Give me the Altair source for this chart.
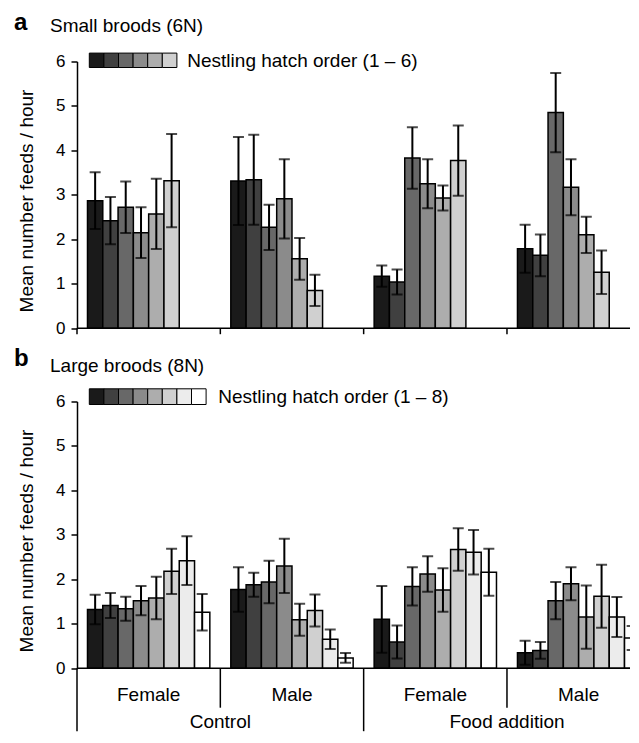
import altair as alt
import pandas as pd

FONT = "Liberation Sans"

groups = ["Control|Female", "Control|Male", "Food addition|Female", "Food addition|Male"]
hatch_orders = [1, 2, 3, 4, 5, 6, 7, 8]
grays = ["#1a1a1a", "#404040", "#686868", "#8b8b8b", "#adadad", "#d0d0d0", "#ececec", "#ffffff"]

# Panel a: small broods (6N) – means and SE
small_ctrl_f_mean = [2.87, 2.42, 2.72, 2.15, 2.57, 3.32]
small_ctrl_f_se = [0.64, 0.53, 0.58, 0.57, 0.79, 1.05]
small_ctrl_m_mean = [3.31, 3.34, 2.27, 2.91, 1.56, 0.85]
small_ctrl_m_se = [0.99, 1.01, 0.51, 0.89, 0.47, 0.35]
small_food_f_mean = [1.17, 1.04, 3.83, 3.25, 2.93, 3.77]
small_food_f_se = [0.24, 0.28, 0.69, 0.55, 0.28, 0.79]
small_food_m_mean = [1.79, 1.64, 4.85, 3.17, 2.10, 1.26]
small_food_m_se = [0.54, 0.47, 0.89, 0.63, 0.41, 0.49]

# Panel b: large broods (8N)
large_ctrl_f_mean = [1.32, 1.41, 1.34, 1.52, 1.58, 2.18, 2.42, 1.26]
large_ctrl_f_se = [0.33, 0.28, 0.27, 0.33, 0.48, 0.51, 0.55, 0.41]
large_ctrl_m_mean = [1.77, 1.88, 1.94, 2.30, 1.09, 1.30, 0.65, 0.23]
large_ctrl_m_se = [0.50, 0.27, 0.48, 0.61, 0.36, 0.36, 0.22, 0.11]
large_food_f_mean = [1.10, 0.59, 1.84, 2.12, 1.76, 2.67, 2.61, 2.16]
large_food_f_se = [0.75, 0.37, 0.43, 0.40, 0.49, 0.48, 0.50, 0.53]
large_food_m_mean = [0.35, 0.40, 1.52, 1.90, 1.15, 1.62, 1.15, 0.68]
large_food_m_se = [0.27, 0.19, 0.42, 0.37, 0.71, 0.71, 0.45, 0.27]

sex_labels = ["Female", "Male", "Female", "Male"]
treatments = ["Control", "Food addition"]
y_title = "Mean number feeds / hour"

W = 553
H = 266.7
XR = 573.3
KEY = 14.6  # legend key width


def build_df(means, ses):
    rows = []
    for g, m, s in zip(groups, means, ses):
        for i, (mv, sv) in enumerate(zip(m, s), start=1):
            rows.append(dict(grp=g, order=i, mean=mv, lo=mv - sv, hi=mv + sv))
    return pd.DataFrame(rows)


def xenc(**kw):
    return alt.X("grp:N", scale=alt.Scale(domain=groups, range=[0, XR], paddingInner=0, paddingOuter=0),
                 axis=None, **kw)


def xoff():
    return alt.XOffset("order:O", scale=alt.Scale(domain=hatch_orders, paddingInner=0, paddingOuter=0.686))


def yscale():
    return alt.Scale(domain=[0, 6], nice=False, zero=True)


def yaxis():
    return alt.Axis(values=[0, 1, 2, 3, 4, 5, 6], title=None, grid=False,
                    tickSize=6, labelPadding=6, domainColor="black",
                    domainWidth=1.5, tickColor="black", tickWidth=1.5, labelColor="black",
                    labelFontSize=17, labelFont=FONT)


def fill_enc(n):
    return alt.Fill("order:O", scale=alt.Scale(domain=hatch_orders[:n], range=grays[:n]), legend=None)


def text_layer(value, **mark_kw):
    return alt.Chart(pd.DataFrame({"t": [value]})).mark_text(font=FONT, color="black", **mark_kw)


def panel(df, n, letter, letter_y, title, legend_title, key_y, key_y2, key_text_x, key_text_y, bottom):
    bars = alt.Chart(df).mark_bar(stroke="black", strokeWidth=1.5, clip=True).encode(
        x=xenc(), xOffset=xoff(),
        y=alt.Y("mean:Q", scale=yscale(), axis=yaxis()),
        fill=fill_enc(n),
    )
    err = alt.Chart(df).mark_rule(stroke="black", strokeWidth=2, clip=True).encode(
        x=xenc(), xOffset=xoff(),
        y=alt.Y("lo:Q", scale=yscale(), axis=yaxis()), y2="hi:Q")
    cap_hi = alt.Chart(df).mark_tick(color="black", size=11, thickness=2, clip=True).encode(
        x=xenc(), xOffset=xoff(), y=alt.Y("hi:Q", scale=yscale(), axis=yaxis()))
    cap_lo = alt.Chart(df).mark_tick(color="black", size=11, thickness=2, clip=True).encode(
        x=xenc(), xOffset=xoff(), y=alt.Y("lo:Q", scale=yscale(), axis=yaxis()))

    base_line = alt.Chart(pd.DataFrame({"k": [0]})).mark_rule(stroke="black", strokeWidth=1.5).encode(
        x=alt.value(0), x2=alt.value(W), y=alt.value(H))

    # legend key: one square per hatch order, on its own band scale
    key = alt.Chart(pd.DataFrame({"order": hatch_orders[:n]})).mark_rect(stroke="black", strokeWidth=1).encode(
        x=alt.X("order:O", scale=alt.Scale(domain=hatch_orders[:n], range=[12.3, 12.3 + KEY * n],
                                           paddingInner=0, paddingOuter=0), axis=None),
        y=alt.value(key_y), y2=alt.value(key_y2),
        fill=fill_enc(n),
    )
    key_txt = text_layer(legend_title, align="left", baseline="alphabetic", fontSize=19).encode(
        x=alt.value(key_text_x), y=alt.value(key_text_y), text="t:N")

    letter_txt = text_layer(letter, align="left", baseline="top", fontSize=24, fontWeight="bold").encode(
        x=alt.value(-63), y=alt.value(letter_y), text="t:N")
    title_txt = text_layer(title, align="left", baseline="alphabetic", fontSize=19).encode(
        x=alt.value(-27), y=alt.value(-29.3), text="t:N")
    ytitle_txt = text_layer(y_title, align="center", baseline="alphabetic", fontSize=19, angle=270).encode(
        x=alt.value(-44), y=alt.value(139.5), text="t:N")

    layers = [bars, err, cap_hi, cap_lo, base_line, key, key_txt, letter_txt, title_txt, ytitle_txt]

    if not bottom:
        ticks = alt.Chart(pd.DataFrame({"grp": groups})).mark_rule(stroke="black", strokeWidth=1.5).encode(
            x=xenc(bandPosition=0), y=alt.value(H), y2=alt.value(H + 6))
        layers.append(ticks)
    else:
        long_sep = alt.Chart(pd.DataFrame({"grp": [groups[0], groups[2]]})).mark_rule(
            stroke="black", strokeWidth=1.5).encode(
            x=xenc(bandPosition=0), y=alt.value(H), y2=alt.value(H + 63))
        short_sep = alt.Chart(pd.DataFrame({"grp": [groups[1], groups[3]]})).mark_rule(
            stroke="black", strokeWidth=1.5).encode(
            x=xenc(bandPosition=0), y=alt.value(H), y2=alt.value(H + 39.5))
        sex_txt = alt.Chart(pd.DataFrame({"grp": groups, "lab": sex_labels})).mark_text(
            align="center", baseline="alphabetic", fontSize=19, font=FONT, color="black"
        ).encode(x=xenc(), y=alt.value(H + 33), text="lab:N")
        trt_txt = alt.Chart(pd.DataFrame({"lab": treatments})).mark_text(
            align="center", baseline="alphabetic", fontSize=19, font=FONT, color="black"
        ).encode(
            x=alt.X("lab:N", scale=alt.Scale(domain=treatments, range=[0, XR], paddingInner=0, paddingOuter=0),
                    axis=None),
            y=alt.value(H + 59.5), text="lab:N")
        layers += [long_sep, short_sep, sex_txt, trt_txt]

    return alt.layer(*layers).resolve_scale(x="independent").properties(width=W, height=H)


small_df = build_df([small_ctrl_f_mean, small_ctrl_m_mean, small_food_f_mean, small_food_m_mean],
                    [small_ctrl_f_se, small_ctrl_m_se, small_food_f_se, small_food_m_se])
large_df = build_df([large_ctrl_f_mean, large_ctrl_m_mean, large_food_f_mean, large_food_m_mean],
                    [large_ctrl_f_se, large_ctrl_m_se, large_food_f_se, large_food_m_se])

top = panel(small_df, 6, "a", -50.2, "Small broods (6N)", "Nestling hatch order (1 \u2013 6)",
            -8.4, 6, 110.3, 5, False)
bot = panel(large_df, 8, "b", -55, "Large broods (8N)", "Nestling hatch order (1 \u2013 8)",
            -12.7, 3, 141.3, 1.7, True)

chart = alt.vconcat(top, bot, spacing=10).resolve_scale(
    fill="independent", x="independent", y="independent", xOffset="independent"
).properties(
    padding={"left": 6, "top": 2.5, "right": 0, "bottom": 0}
).configure(font=FONT).configure_view(stroke=None)

chart.save("out.html", embed_options={"renderer": "svg", "actions": False})
